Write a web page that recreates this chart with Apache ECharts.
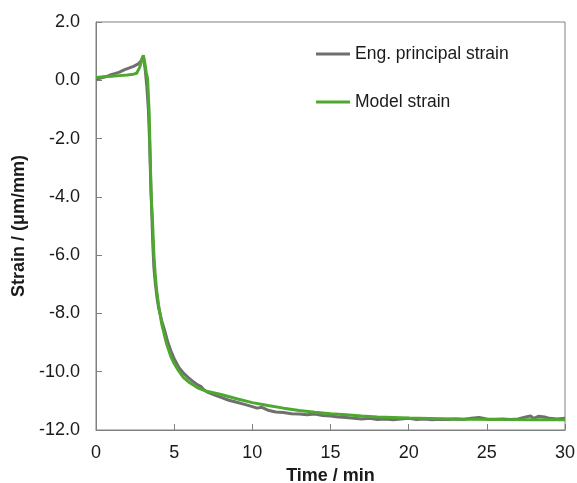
<!DOCTYPE html>
<html>
<head>
<meta charset="utf-8">
<script src="https://cdn.jsdelivr.net/npm/echarts@6/dist/echarts.min.js"></script>
<style>
  html, body { margin: 0; padding: 0; background: #fff; }
  #chart { width: 577px; height: 483px; }
</style>
</head>
<body>
<div id="chart"></div>
<script>
// Measured engineering principal strain (µm/mm) against time (min)
const engTime = [0, 0.3, 0.6, 0.9, 1.2, 1.5, 1.8, 2.1, 2.4, 2.7, 2.9, 3.0, 3.05, 3.15, 3.25, 3.35, 3.42, 3.5, 3.57, 3.63, 3.7, 3.8, 3.9, 4.0, 4.2, 4.4, 4.6, 4.8, 5.0, 5.3, 5.6, 5.9, 6.2, 6.5, 6.7, 6.9, 7.2, 7.6, 8.0, 8.5, 9.0, 9.5, 10.0, 10.3, 10.6, 11.0, 11.5, 12.0, 12.5, 13.0, 13.5, 14.0, 14.5, 15.0, 15.5, 16.0, 16.5, 17.0, 17.5, 18.0, 18.5, 19.0, 19.5, 20.0, 20.5, 21.0, 21.5, 22.0, 22.5, 23.0, 23.5, 24.0, 24.5, 25.0, 25.5, 26.0, 26.5, 27.0, 27.5, 27.8, 28.0, 28.3, 28.7, 29.0, 29.5, 30.0];
const engStrain = [0.03, 0.08, 0.12, 0.18, 0.23, 0.28, 0.36, 0.42, 0.48, 0.56, 0.68, 0.80, 0.72, 0.35, -0.2, -1.0, -2.0, -3.5, -4.6, -5.6, -6.4, -7.0, -7.45, -7.8, -8.25, -8.6, -9.0, -9.3, -9.55, -9.85, -10.05, -10.2, -10.33, -10.45, -10.5, -10.62, -10.72, -10.8, -10.88, -10.98, -11.05, -11.12, -11.2, -11.25, -11.22, -11.32, -11.38, -11.4, -11.44, -11.45, -11.48, -11.45, -11.5, -11.52, -11.55, -11.57, -11.6, -11.62, -11.6, -11.64, -11.62, -11.65, -11.62, -11.6, -11.64, -11.62, -11.65, -11.63, -11.64, -11.62, -11.64, -11.6, -11.57, -11.62, -11.63, -11.62, -11.64, -11.62, -11.55, -11.52, -11.6, -11.53, -11.55, -11.6, -11.62, -11.6];

// Model strain (µm/mm) against time (min)
const modelTime = [0, 0.5, 1.0, 1.5, 2.0, 2.4, 2.6, 2.8, 2.95, 3.03, 3.12, 3.22, 3.3, 3.4, 3.45, 3.52, 3.56, 3.62, 3.71, 3.8, 3.88, 4.0, 4.2, 4.4, 4.52, 4.8, 5.0, 5.3, 5.6, 6.0, 6.5, 7.0, 8.0, 9.0, 10.0, 11.0, 12.0, 13.0, 14.0, 15.0, 16.0, 17.0, 18.0, 19.0, 20.0, 22.0, 24.0, 26.0, 28.0, 30.0];
const modelStrain = [0.1, 0.12, 0.14, 0.16, 0.18, 0.21, 0.24, 0.45, 0.75, 0.86, 0.6, 0.25, 0.05, -1.1, -2.2, -3.8, -4.3, -4.9, -6.05, -6.75, -7.2, -7.7, -8.35, -8.8, -9.05, -9.5, -9.72, -9.98, -10.2, -10.38, -10.55, -10.66, -10.78, -10.93, -11.06, -11.16, -11.25, -11.33, -11.39, -11.44, -11.48, -11.52, -11.55, -11.57, -11.59, -11.61, -11.63, -11.64, -11.645, -11.65];

const seriesNames = ['Eng. principal strain', 'Model strain'];
const xTitle = 'Time / min';
const yTitle = 'Strain / (\u03bcm/mm)';

const pairs = (xs, ys) => xs.map((x, i) => [x, ys[i]]);

const FONT = '"Liberation Sans", Arial, sans-serif';
const chart = echarts.init(document.getElementById('chart'), null, { renderer: 'canvas' });

chart.setOption({
  animation: false,
  backgroundColor: '#ffffff',
  grid: {
    left: 96, right: 12, top: 22, bottom: 53,
    outerBoundsMode: 'none', containLabel: false,
    show: true, borderColor: '#808080', borderWidth: 1
  },
  legend: {
    orient: 'vertical',
    left: 311, top: 40,
    itemGap: 30,
    itemWidth: 34, itemHeight: 3,
    icon: 'rect',
    textStyle: { fontFamily: FONT, fontSize: 17.5, color: '#1a1a1a', padding: [0, 0, 0, 0] },
    data: seriesNames
  },
  xAxis: {
    type: 'value', min: 0, max: 30, interval: 5,
    name: xTitle, nameLocation: 'middle', nameGap: 36,
    nameTextStyle: { fontFamily: FONT, fontSize: 18, fontWeight: 'bold', color: '#1a1a1a' },
    axisLine: { show: true, onZero: false, lineStyle: { color: '#808080', width: 1 } },
    axisTick: { show: true, inside: true, length: 6, lineStyle: { color: '#808080' } },
    axisLabel: { fontFamily: FONT, fontSize: 18, color: '#1a1a1a', margin: 14 },
    splitLine: { show: false }
  },
  yAxis: {
    type: 'value', min: -12, max: 2, interval: 2,
    name: yTitle, nameLocation: 'middle', nameGap: 60,
    nameTextStyle: { fontFamily: FONT, fontSize: 18, fontWeight: 'bold', color: '#1a1a1a' },
    axisLine: { show: true, onZero: false, lineStyle: { color: '#808080', width: 1 } },
    axisTick: { show: true, inside: true, length: 6, lineStyle: { color: '#808080' } },
    axisLabel: {
      fontFamily: FONT, fontSize: 18, color: '#1a1a1a', margin: 16,
      formatter: v => v.toFixed(1)
    },
    splitLine: { show: false }
  },
  series: [
    {
      name: seriesNames[0], type: 'line', data: pairs(engTime, engStrain),
      showSymbol: false, symbol: 'none',
      lineStyle: { color: '#6f6f6f', width: 3 }, itemStyle: { color: '#6f6f6f' }
    },
    {
      name: seriesNames[1], type: 'line', data: pairs(modelTime, modelStrain),
      showSymbol: false, symbol: 'none',
      lineStyle: { color: '#4ea72e', width: 3 }, itemStyle: { color: '#4ea72e' }
    }
  ]
});
</script>
</body>
</html>
